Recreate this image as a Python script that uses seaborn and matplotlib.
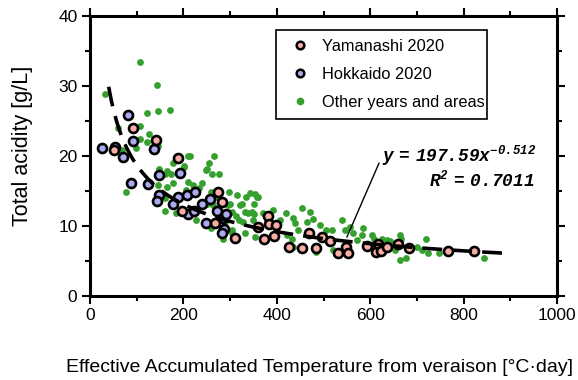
import numpy as np
import pandas as pd
import matplotlib
matplotlib.use("Agg")
import matplotlib.pyplot as plt
from matplotlib.ticker import MultipleLocator
from matplotlib.lines import Line2D
from matplotlib.patches import Rectangle
import seaborn as sns

# Yamanashi 2020 samples: effective accumulated temperature (°C·day) and total acidity (g/L)
yamanashi_x = [52, 93, 141, 188, 198, 268, 275, 282, 311, 360, 373, 382, 384, 398, 395,
               427, 455, 470, 485, 496, 514, 530, 548, 552, 594, 616, 612, 623, 635, 660,
               684, 766, 822]
yamanashi_y = [20.8, 24.0, 22.3, 19.7, 12.2, 10.5, 14.9, 13.5, 8.3, 9.8, 8.2, 11.4, 10.3, 10.1, 8.6,
               7.0, 6.9, 9.0, 6.9, 8.5, 7.8, 6.2, 7.0, 6.2, 7.2, 7.5, 6.3, 6.4, 7.0, 7.5,
               6.9, 6.4, 6.4]

# Hokkaido 2020 samples
hokkaido_x = [26, 54, 71, 82, 93, 138, 88, 125, 148, 193, 148, 143, 177, 189, 207, 225,
              210, 223, 239, 257, 248, 273, 284, 292, 287, 282]
hokkaido_y = [21.2, 21.3, 19.9, 25.9, 22.1, 21.0, 16.2, 16.0, 17.3, 17.6, 14.4, 13.6, 13.2, 14.1, 14.4, 14.8,
              11.7, 12.1, 13.2, 13.8, 10.5, 12.1, 11.2, 11.7, 9.6, 9.0]

# Other years and areas
other_x = [107, 144, 32, 121, 146, 171, 61, 107, 126, 106, 121, 146, 98, 68, 210,
           250, 265, 255, 277, 201, 148, 164, 173, 178, 78, 202, 161, 178, 164, 210,
           205, 239, 146, 161, 161, 185, 228, 260, 300, 321, 335, 342, 353, 359, 339,
           351, 328, 313, 303, 332, 353, 314, 290, 248, 262, 214, 298, 221, 234, 260,
           271, 250, 264, 296, 303, 325, 332, 318, 303, 284, 357, 351, 346, 350, 371,
           378, 392, 407, 420, 435, 439, 455, 471, 478, 464, 446, 432, 492, 505, 485,
           518, 521, 539, 546, 557, 564, 571, 585, 582, 603, 608, 625, 635, 642, 664,
           667, 664, 677, 700, 719, 724, 748, 844, 421, 435, 621, 653, 710]
other_y = [33.4, 30.1, 28.8, 26.1, 26.4, 26.6, 24.0, 24.3, 23.2, 22.4, 22.0, 21.5, 21.2, 20.9, 20.0,
           18.1, 20.0, 19.0, 17.5, 18.4, 18.1, 17.9, 17.5, 19.0, 14.9, 18.6, 17.5, 16.1, 15.6, 16.3,
           15.2, 16.2, 15.8, 14.0, 12.1, 11.9, 10.9, 9.7, 13.2, 13.0, 14.2, 14.7, 14.6, 14.1, 11.8,
           11.7, 10.6, 11.4, 9.5, 9.0, 8.4, 14.4, 10.6, 18.0, 17.4, 20.0, 14.9, 15.9, 15.4, 14.9,
           14.2, 13.2, 13.0, 13.0, 12.0, 13.2, 12.0, 10.9, 9.0, 8.2, 14.2, 13.2, 12.0, 10.9, 11.8,
           10.9, 12.3, 10.9, 11.8, 11.1, 10.4, 12.6, 12.0, 11.0, 10.6, 9.4, 8.2, 10.1, 9.5, 6.3,
           9.4, 6.6, 10.9, 9.4, 9.9, 9.0, 8.0, 9.7, 8.7, 8.7, 8.1, 8.2, 8.0, 7.8, 8.7,
           8.1, 5.2, 5.4, 7.0, 8.1, 6.2, 6.1, 5.4, 8.7, 7.0, 7.5, 6.6, 6.6]

# Power-law fit y = a * x^b
fit_a = 197.59
fit_b = -0.512
fit_r2 = 0.7011
fit_range = (40, 890)

sns.set_theme(style="ticks")
plt.rcParams["font.family"] = ["Liberation Sans", "DejaVu Sans"]
plt.rcParams["text.color"] = "black"
plt.rcParams["axes.labelcolor"] = "black"
plt.rcParams["xtick.color"] = "black"
plt.rcParams["ytick.color"] = "black"
plt.rcParams["mathtext.fontset"] = "custom"
plt.rcParams["mathtext.rm"] = "Liberation Mono:bold:italic"
plt.rcParams["mathtext.it"] = "Liberation Mono:bold:italic"

W, H = 578, 380
fig = plt.figure(figsize=(W / 100, H / 100), dpi=100)
ax = fig.add_axes([90 / W, 1 - 296 / H, 467 / W, 280 / H])

green = "#36a02e"
pink = "#f7aea5"
lavender = "#a9aaf0"

other = pd.DataFrame({"x": other_x, "y": other_y})
hok = pd.DataFrame({"x": hokkaido_x, "y": hokkaido_y})
yam = pd.DataFrame({"x": yamanashi_x, "y": yamanashi_y})

sns.scatterplot(data=other, x="x", y="y", ax=ax, color=green, s=24,
                linewidth=0, zorder=2)
sns.scatterplot(data=hok, x="x", y="y", ax=ax, color=lavender, s=42,
                edgecolor="black", linewidth=1.9, zorder=3)
sns.scatterplot(data=yam, x="x", y="y", ax=ax, color=pink, s=42,
                edgecolor="black", linewidth=1.9, zorder=3)

xf = np.linspace(fit_range[0], fit_range[1], 300)
ax.plot(xf, fit_a * xf ** fit_b, color="black", lw=2.6,
        dashes=(5.5, 2.8), zorder=4)

# Equation label with a leader line to the curve
ax.plot([619, 550], [19.0, 8.4], color="black", lw=1.0, zorder=5)
ax.text(955, 19.2, r"$\mathrm{y\ =\ 197.59x^{-0.512}}$", ha="right", va="baseline",
        fontsize=12.8, zorder=6)
ax.text(951, 15.6, r"$\mathrm{R^{2}\ =\ 0.7011}$", ha="right", va="baseline",
        fontsize=12.8, zorder=6)

ax.set_xlim(0, 1000)
ax.set_ylim(0, 40)
ax.xaxis.set_major_locator(MultipleLocator(200))
ax.xaxis.set_minor_locator(MultipleLocator(100))
ax.yaxis.set_major_locator(MultipleLocator(10))
ax.yaxis.set_minor_locator(MultipleLocator(5))
ax.tick_params(which="both", direction="out", top=True, right=True,
               labeltop=False, labelright=False, width=1.5,
               color="black", labelcolor="black")
ax.tick_params(which="major", length=6, labelsize=12.5, pad=3)
ax.tick_params(which="minor", length=3.5)
for sp in ax.spines.values():
    sp.set_visible(True)
    sp.set_linewidth(2.2)
    sp.set_color("black")

ax.set_xlabel("Effective Accumulated Temperature from veraison [°C·day]",
              fontsize=14)
ax.xaxis.set_label_coords((320 - 90) / 467, -(367 - 296) / 280, transform=ax.transAxes)
ax.xaxis.label.set_va("center")
ax.set_ylabel("Total acidity [g/L]", fontsize=15.5)
ax.yaxis.set_label_coords(-(90 - 23) / 467, (296 - 146) / 280, transform=ax.transAxes)
ax.yaxis.label.set_va("center")

handles = [
    Line2D([], [], marker="o", ls="none", markerfacecolor=pink,
           markeredgecolor="black", markeredgewidth=1.8, markersize=5.5),
    Line2D([], [], marker="o", ls="none", markerfacecolor=lavender,
           markeredgecolor="black", markeredgewidth=1.8, markersize=5.5),
    Line2D([], [], marker="o", ls="none", markerfacecolor=green,
           markeredgecolor=green, markersize=4.5),
]
labels = ["Yamanashi 2020", "Hokkaido 2020", "Other years and areas"]
leg = ax.legend(handles, labels, loc="upper left",
                bbox_to_anchor=((290 - 90) / 467, (296 - 39) / 280),
                fontsize=11.8, frameon=False, borderpad=0.0, labelspacing=0.8,
                handletextpad=0.75, handlelength=1.2, borderaxespad=0)
leg.set_zorder(10)
for t in leg.get_texts():
    t.set_color("black")

# Legend box
ax.add_patch(Rectangle((276 / W, 1 - 119 / H), 211 / W, 89 / H,
                       transform=fig.transFigure, fill=True,
                       facecolor="white", edgecolor="black", lw=1.2,
                       zorder=9, clip_on=False))

fig.savefig("out.png", dpi=100)
